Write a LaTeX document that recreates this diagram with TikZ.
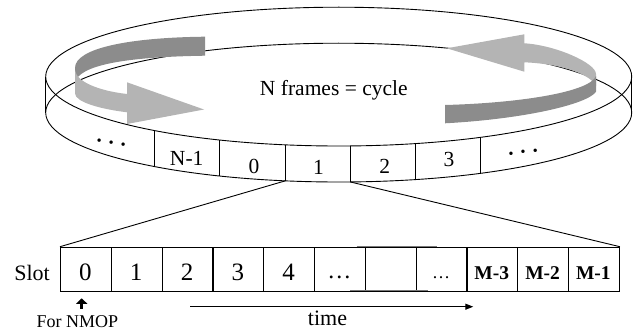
\documentclass[tikz,border=0pt]{standalone}
\usepackage{fontspec}
\setmainfont{Liberation Serif}
\usetikzlibrary{arrows.meta}
\definecolor{ribbondark}{RGB}{140,140,140}
\definecolor{ribbonlight}{RGB}{180,180,180}
\definecolor{fadeline}{RGB}{120,120,120}
\newcommand{\fsz}[1]{\fontsize{#1}{#1}\selectfont}
\begin{document}
\begin{tikzpicture}[x=1pt,y=-1pt,
  rim/.style={line width=0.9pt},
  slotbox/.style={draw, line width=1.1pt, minimum width=50.8pt, minimum height=44pt,
    inner sep=0pt, anchor=north west},
  ringlabel/.style={anchor=base, inner sep=0pt, font=\fsz{21.5}},
  ringdots/.style={anchor=base, inner sep=0pt, font=\fsz{21}\bfseries},
  slotlabel/.style={anchor=base, inner sep=0pt, font=\fsz{25}},
  slotbold/.style={anchor=base, inner sep=0pt, font=\fsz{19.5}\bfseries},
  caption/.style={anchor=base, inner sep=0pt},
]
\useasboundingbox (0,0) rectangle (634,329);

% the frame wheel: top and bottom rims of the disc
\draw[rim] (338.7,76.6) ellipse [x radius=293, y radius=69.4];
\draw[rim] (338.7,112.6) ellipse [x radius=293, y radius=69.4];
\draw[rim] (45.7,76.6) -- (45.7,112.6);
\draw[rim] (631.7,76.6) -- (631.7,112.6);

% frame dividers on the side band
\foreach \x [count=\k] in {154.3,219.3,285.3,350.3,415.3,480.7} {
  \pgfmathsetmacro{\yt}{76.6+69.4*sqrt(1-((\x-338.7)/293)*((\x-338.7)/293))}
  \draw[rim] (\x,\yt) coordinate (dt\k) -- (\x,\yt+36) coordinate (db\k);
}

% left rotation ribbon: back face, then front face with head
\fill[ribbondark] (205,36.7) .. controls (130,37.5) and (75,48) .. (75,68)
  -- (75,82) .. controls (80,66) and (120,57) .. (205,55.7) -- cycle;
\fill[ribbonlight] (75,70) .. controls (76,82) and (100,91) .. (127,94)
  -- (127,82.3) -- (204,109.5) -- (127,124) -- (127,112.3)
  .. controls (100,109) and (75,102) .. (75,93.3) -- cycle;

% right rotation ribbon: back face with head, then front face
\fill[ribbonlight] (446.7,48.3) -- (524.3,34.3) -- (524.3,43.3)
  .. controls (555,45) and (596,63) .. (596,74) -- (596,86)
  .. controls (592,76) and (565,64) .. (524.3,62.3) -- (524.3,71.7) -- cycle;
\fill[ribbondark] (445,105) .. controls (520,103) and (590,92) .. (596,76)
  -- (596,91.7) .. controls (588,104) and (525,119) .. (445,123.3) -- cycle;

\node[caption, font=\fsz{21.5}] (cycle) at (333.8,95) {N frames = cycle};

% frame numbers
\node[ringdots, rotate=-11.5] (fdl) at (111,144) {. . .};
\node[ringlabel] (fn1) at (186.7,165) {N-1};
\node[ringlabel] (f0) at (254,173.3) {0};
\node[ringlabel] (f1) at (318.5,174) {1};
\node[ringlabel] (f2) at (384.7,173.3) {2};
\node[ringlabel] (f3) at (449,166.7) {3};
\node[ringdots, rotate=6.5] (fdr) at (523.3,153.5) {. . .};

% slots of one frame
\foreach \i in {0,...,10}
  \node[slotbox] (s\i) at (60+50.8*\i,246.7) {};
\draw[fadeline, line width=1.4pt] (356.7,246.7) -- (436.7,246.7);
\draw[fadeline, line width=1.2pt] (350,290.7) -- (428.3,290.7);

\node[caption, font=\fsz{22}] (slot) at (32,280) {Slot};
\node[slotlabel] (l0) at (85.4,280) {0};
\node[slotlabel] (l1) at (136.2,280) {1};
\node[slotlabel] (l2) at (187.0,280) {2};
\node[slotlabel] (l3) at (237.8,280) {3};
\node[slotlabel] (l4) at (288.6,280) {4};
\node[caption, font=\fsz{24}] (l5) at (339.4,278) {\dots};
\node[caption, font=\fsz{18}] (l7) at (441.0,278) {\dots};
\node[slotbold] (l8) at (491.8,279.3) {M-3};
\node[slotbold] (l9) at (542.6,279.3) {M-2};
\node[slotbold] (l10) at (593.4,279.3) {M-1};

% zoom lines from frame 1 down to the slot row
\draw[rim] (db3) -- (s0.north west);
\draw[rim] (db4) -- (s10.north east);

% NMOP marker
\coordinate (n0) at (81.7,308.5);
\coordinate (n1) at (81.7,298.3);
\draw[line width=3pt, -{Triangle[length=5.5pt,width=11pt]}] (n0) -- (n1);
\node[caption, font=\fsz{18}] (nmop) at (77.5,327.6) {For NMOP};

% time axis
\coordinate (t0) at (190,306.7);
\coordinate (t1) at (473.3,306.7);
\draw[line width=1.2pt, -{Triangle[length=8pt,width=6pt]}] (t0) -- (t1);
\node[caption, font=\fsz{22}] (time) at (327.5,325.8) {time};
\end{tikzpicture}
\end{document}
